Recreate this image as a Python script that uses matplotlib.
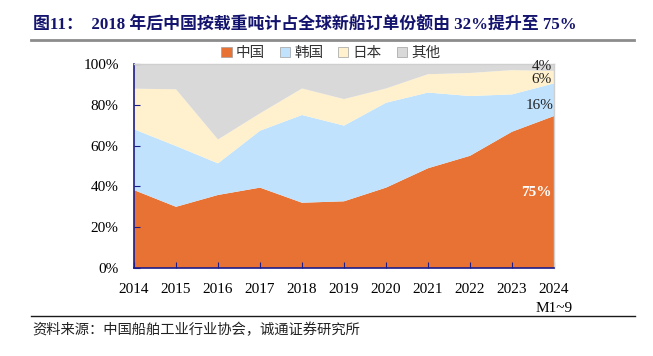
import matplotlib
matplotlib.use("Agg")
import matplotlib.pyplot as plt
from matplotlib.patches import Patch
from matplotlib.lines import Line2D

years = ["2014", "2015", "2016", "2017", "2018", "2019", "2020", "2021", "2022", "2023", "2024\nM1~9"]
series_names = ["中国", "韩国", "日本", "其他"]
china = [38.2, 30.0, 35.8, 39.4, 32.0, 32.7, 39.4, 48.9, 55.0, 66.8, 74.5]
korea = [29.8, 29.8, 15.5, 27.9, 43.0, 37.1, 41.6, 37.1, 29.3, 18.3, 16.0]
japan = [19.9, 27.8, 11.7, 8.5, 13.0, 13.0, 7.0, 9.0, 11.3, 11.9, 6.1]
other = [12.1, 12.4, 37.0, 24.2, 12.0, 17.2, 12.0, 5.0, 4.4, 3.0, 3.4]
end_labels = ["75%", "16%", "6%", "4%"]
y_ticks = [0, 20, 40, 60, 80, 100]

colors = ["#E87233", "#C0E2FD", "#FFF1CD", "#D9D9D9"]
navy = "#1C1C8A"
serif = ["Liberation Serif", "Noto Sans CJK SC"]
cjk = ["Noto Sans CJK SC", "DejaVu Sans"]

fig = plt.figure(figsize=(6.53, 3.56), dpi=100)
W, H = 653, 356
ax = fig.add_axes([134 / W, 1 - 268 / H, 420 / W, 204 / H])

x = list(range(len(years)))
ax.stackplot(x, china, korea, japan, other, colors=colors, linewidth=0)
ax.set_xlim(0, len(years) - 1)
ax.set_ylim(0, 100)
ax.set_xticks(x)
ax.set_xticklabels(years, fontfamily=serif, fontsize=11, linespacing=1.6)
ax.set_yticks(y_ticks)
ax.set_yticklabels([f"{v}%" for v in y_ticks], fontfamily=serif, fontsize=11)
ax.tick_params(axis="x", direction="in", length=4, color=navy, pad=11)
ax.tick_params(axis="y", direction="in", length=4, color=navy, pad=11)
for s in ["left", "bottom"]:
    ax.spines[s].set_color(navy)
    ax.spines[s].set_linewidth(1.2)
for s in ["top", "right"]:
    ax.spines[s].set_color("#CFCFCF")
    ax.spines[s].set_linewidth(1.0)

last = len(years) - 1
ax.text(last - 0.05, 37, end_labels[0], color="white", fontsize=11, fontweight="bold",
        fontfamily=serif, ha="right", va="center")
ax.text(last - 0.02, 79.5, end_labels[1], color="#222222", fontsize=11,
        fontfamily=serif, ha="right", va="center")
ax.text(last - 0.05, 92.5, end_labels[2], color="#222222", fontsize=11,
        fontfamily=serif, ha="right", va="center")
ax.text(last - 0.05, 98.6, end_labels[3], color="#222222", fontsize=11,
        fontfamily=serif, ha="right", va="center")

handles = [Patch(facecolor=c, edgecolor="#A0A0A0", linewidth=0.5) for c in colors]
fig.legend(handles, series_names, loc="center", bbox_to_anchor=(331 / W, 1 - 53 / H),
           ncol=4, frameon=False, prop={"family": cjk, "size": 10.5},
           handlelength=0.7, handleheight=0.7, handletextpad=0.3, columnspacing=1.0,
           labelcolor="#333333")

fig.text(33 / W, 1 - 26 / H, "图11：  2018 年后中国按载重吨计占全球新船订单份额由 32%提升至 75%",
         fontfamily=["Liberation Serif", "Noto Sans CJK SC"], fontweight="bold", fontsize=12.2,
         color="#14146E", ha="left", va="center")
fig.add_artist(Line2D([31 / W, 634 / W], [1 - 39.5 / H, 1 - 39.5 / H], color="#8C8C8C", linewidth=2.0))
fig.add_artist(Line2D([31 / W, 635 / W], [1 - 316 / H, 1 - 316 / H], color="#1A1A1A", linewidth=1.0))
fig.text(32 / W, 1 - 330 / H, "资料来源：中国船舶工业行业协会，诚通证券研究所",
         fontfamily=cjk, fontsize=10.3, color="#222222", ha="left", va="center")

fig.savefig("out.png", dpi=100)
